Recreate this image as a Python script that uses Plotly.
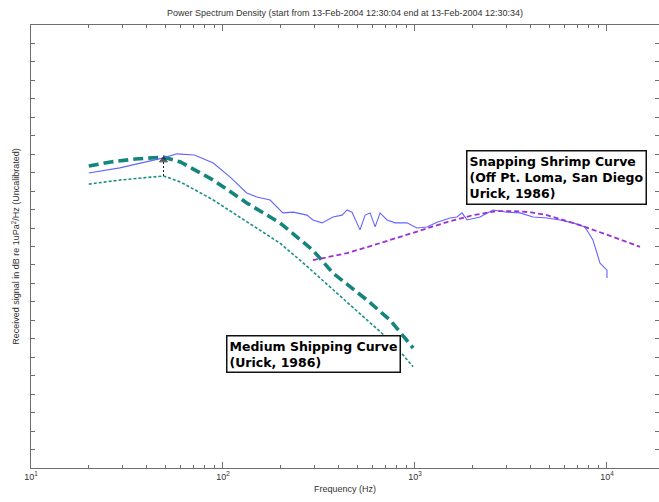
import plotly.graph_objects as go

# ---- data ----
measured_f = [20, 29, 49, 57.5, 71, 89, 109, 133, 150, 176, 205, 232, 274, 294, 328, 374, 417, 443, 470,
              517, 550, 584, 620, 658, 715, 787, 908, 1024, 1155, 1303, 1522, 1655, 1758, 1866, 2182,
              2548, 3014, 3523, 4120, 4870, 5690, 6650, 7680, 8450, 9200, 10000, 10000]
measured_db = [79.9, 81.3, 84.0, 85.1, 84.8, 82.6, 78.8, 74.5, 73.4, 72.6, 69.1, 69.3, 68.5, 67.2, 66.4,
               68.0, 68.5, 69.9, 69.3, 64.5, 68.5, 69.1, 65.3, 69.1, 67.2, 66.4, 66.4, 65.0, 65.3, 66.6,
               67.7, 68.0, 69.1, 67.2, 68.0, 69.9, 69.3, 69.1, 68.0, 67.7, 67.2, 66.4, 65.3, 61.8, 55.5,
               53.6, 51.5]

ship_heavy_f = [20, 26, 35, 49, 60, 89, 133, 198, 294, 374, 562, 741, 978]
ship_heavy_db = [81.8, 82.9, 83.7, 84.2, 82.9, 78.0, 71.8, 66.4, 59.0, 52.8, 45.5, 40.1, 32.5]

ship_med_f = [20, 29, 49, 60, 89, 133, 198, 252, 374, 562, 766, 978]
ship_med_db = [76.9, 78.0, 79.1, 77.5, 72.6, 66.6, 60.9, 56.3, 48.2, 40.1, 33.9, 27.4]

shrimp_f = [294, 443, 657, 977, 1468, 2006, 2673, 3236, 3970, 4870, 7230, 10740, 14860]
shrimp_db = [56.3, 58.2, 60.9, 63.7, 66.6, 68.5, 69.6, 69.6, 69.3, 68.5, 65.8, 62.6, 59.9]

arrow_f = [49, 49]
arrow_db = [79.1, 83.4]

x_tickvals = [10, 100, 1000, 10000]
x_ticktext = ["10<sup>1</sup>", "10<sup>2</sup>", "10<sup>3</sup>", "10<sup>4</sup>"]

title_text = "Power Spectrum Density (start from 13-Feb-2004 12:30:04 end at 13-Feb-2004 12:30:34)"
xlabel = "Frequency (Hz)"
ylabel = "Received signal in dB re 1uPa<sup>2</sup>/Hz (Uncalibrated)"
shrimp_label = "Snapping Shrimp Curve<br>(Off Pt. Loma, San Diego<br>Urick, 1986)"
ship_label = "Medium Shipping Curve<br>(Urick, 1986)"

FONT = "Liberation Sans, Arial, sans-serif"
BOXFONT = "DejaVu Sans, Verdana, sans-serif"
AX = "#6e6e6e"

fig = go.Figure()
fig.add_trace(go.Scatter(x=ship_med_f, y=ship_med_db, mode="lines",
                         line=dict(color="#1a8f86", width=1.6, dash="3px,2px")))
fig.add_trace(go.Scatter(x=ship_heavy_f, y=ship_heavy_db, mode="lines",
                         line=dict(color="#13857b", width=3.6, dash="10px,5px")))
fig.add_trace(go.Scatter(x=measured_f, y=measured_db, mode="lines",
                         line=dict(color="#6464ff", width=1.1)))
fig.add_trace(go.Scatter(x=shrimp_f, y=shrimp_db, mode="lines",
                         line=dict(color="#9a2fd6", width=1.8, dash="5px,3px")))
fig.add_trace(go.Scatter(x=arrow_f, y=arrow_db, mode="lines+markers",
                         line=dict(color="#222222", width=1, dash="2px,2px"),
                         marker=dict(symbol="triangle-up", size=[0, 7], color="#111111")))

minor_vals = [m * d for d in (10, 100, 1000, 10000) for m in range(2, 10)]

fig.update_layout(
    width=659, height=502,
    margin=dict(l=31, r=0, t=25, b=34),
    paper_bgcolor="white", plot_bgcolor="white",
    showlegend=False,
    font=dict(family=FONT, size=9, color="#333333"),
    title=dict(text=title_text, x=0.5, xanchor="center", xref="paper", y=0.975, yanchor="middle",
               font=dict(family=FONT, size=9, color="#333333")),
    xaxis=dict(type="log", range=[1, 4.271], showgrid=False, zeroline=False,
               showline=True, linecolor=AX, linewidth=1, mirror="ticks",
               ticks="inside", ticklen=6, tickcolor=AX, tickwidth=1,
               tickmode="array", tickvals=x_tickvals, ticktext=x_ticktext,
               tickfont=dict(family=FONT, size=9, color="#333333"),
               minor=dict(ticks="inside", ticklen=3, tickcolor=AX, tickmode="array",
                          tickvals=minor_vals, showgrid=False),
               title=dict(text=xlabel, standoff=4, font=dict(family=FONT, size=9, color="#333333"))),
    yaxis=dict(range=[0, 120], showgrid=False, zeroline=False,
               showline=True, linecolor=AX, linewidth=1, mirror="ticks",
               ticks="inside", ticklen=4, tickcolor=AX, dtick=5, tick0=0,
               showticklabels=False,
               title=dict(text=ylabel, standoff=8, font=dict(family=FONT, size=9, color="#333333"))),
    annotations=[
        dict(x=3.266, y=86.1, xref="x", yref="y", xanchor="left", yanchor="top",
             text="<b>" + shrimp_label + "</b>", showarrow=False, align="left",
             font=dict(family=BOXFONT, size=12.5, color="black"),
             bordercolor="#111111", borderwidth=1.5, borderpad=2, bgcolor="white"),
        dict(x=2.016, y=36.0, xref="x", yref="y", xanchor="left", yanchor="top",
             text="<b>" + ship_label + "</b>", showarrow=False, align="left",
             font=dict(family=BOXFONT, size=12.5, color="black"),
             bordercolor="#111111", borderwidth=1.5, borderpad=2, bgcolor="white"),
    ],
)

fig.write_html("out.html")
